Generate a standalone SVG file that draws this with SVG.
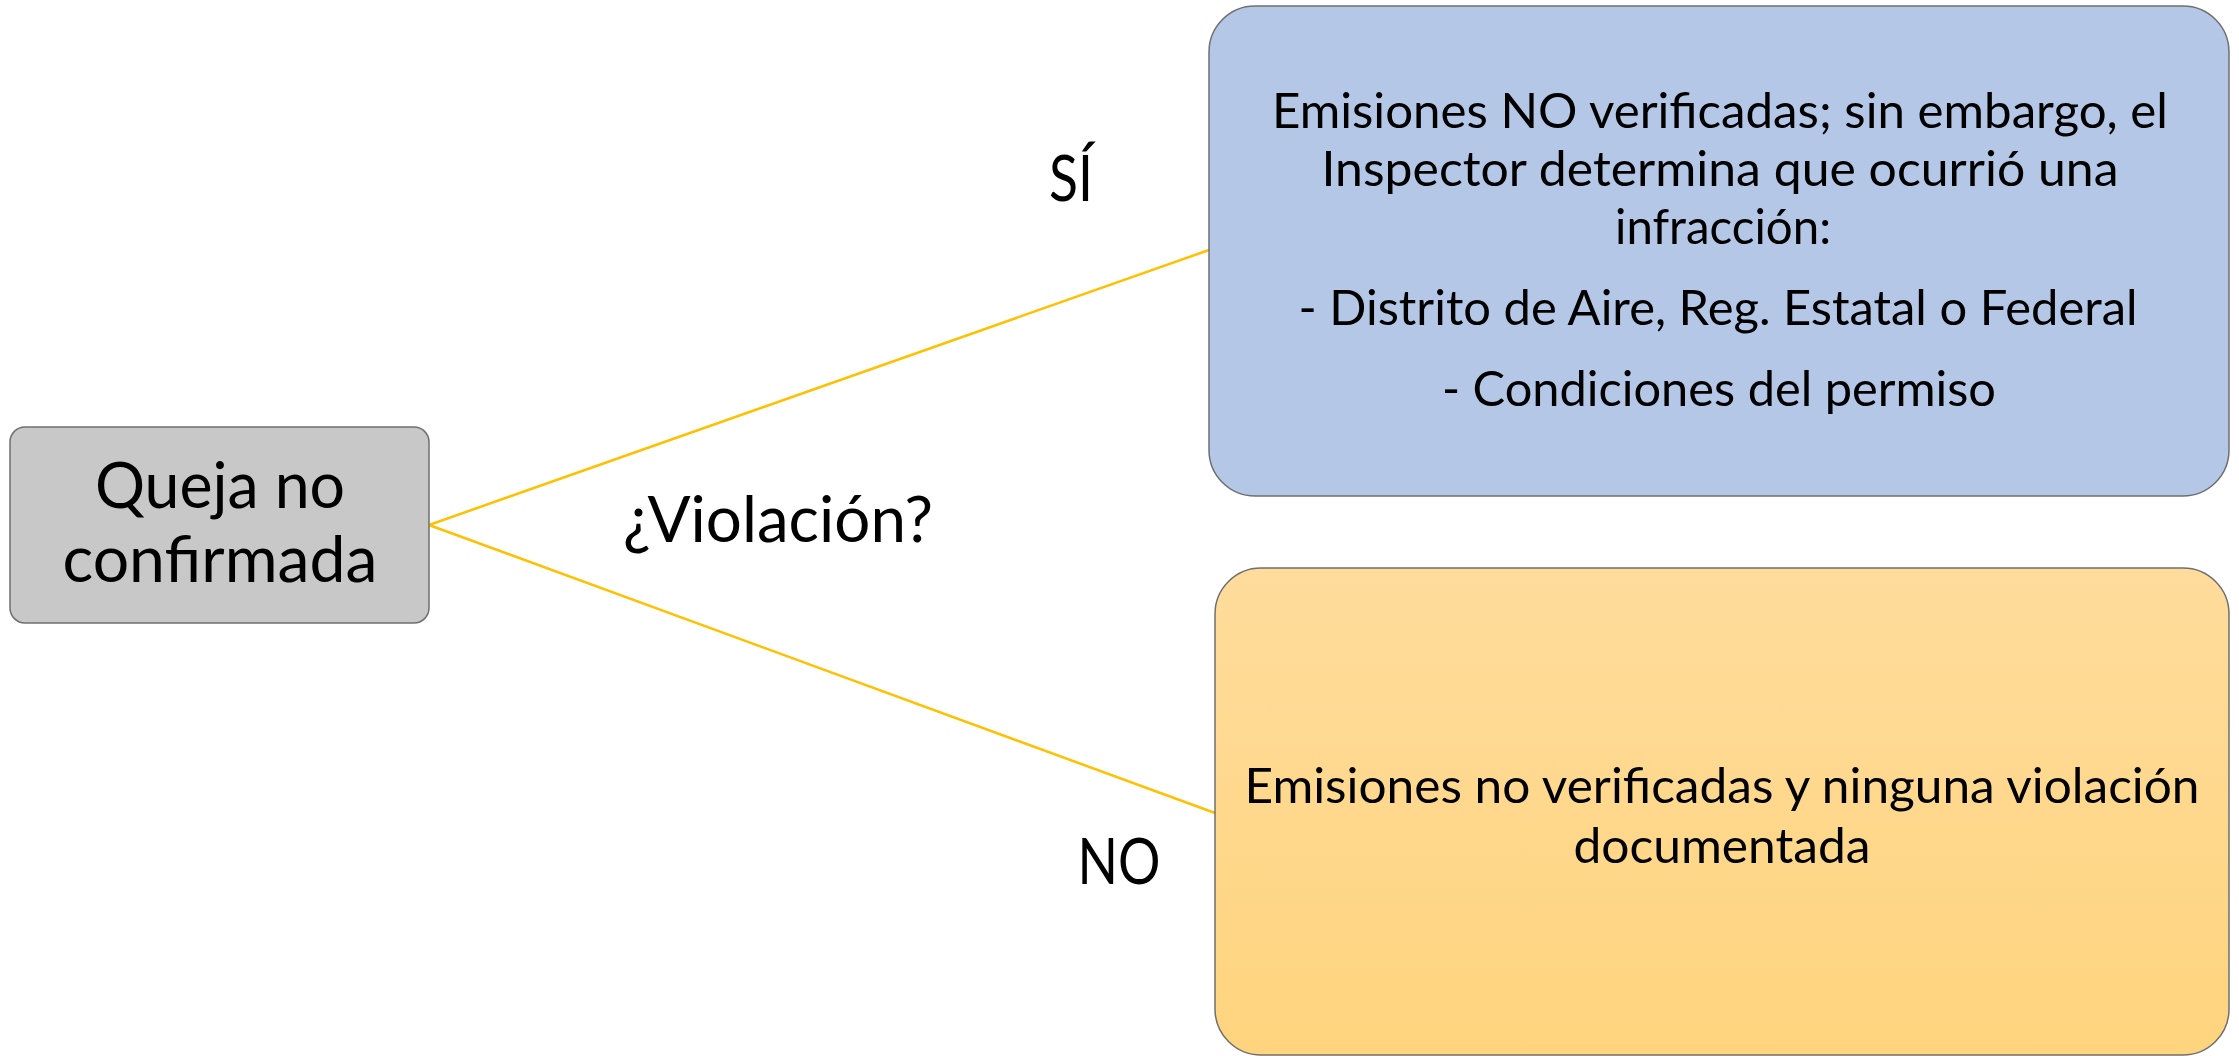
<svg xmlns="http://www.w3.org/2000/svg" width="2239" height="1056" viewBox="0 0 2239 1056">
<style>
  text { font-family: Lato, "Open Sans", "Liberation Sans", sans-serif; fill: #000; text-anchor: middle; }
  .big { font-size: 63px; }
  .mid { font-size: 49px; }
  .conn { stroke: #FFC000; stroke-width: 2.5; fill: none; }
  .box { stroke: #6F6F6F; stroke-width: 1.5; }
</style>
<defs>
  <linearGradient id="og" x1="0" y1="0" x2="0" y2="1">
    <stop offset="0" stop-color="#FFDC9C"/>
    <stop offset="1" stop-color="#FFD47E"/>
  </linearGradient>
</defs>
<rect width="2239" height="1056" fill="#FFFFFF"/>
<g id="connectors">
  <line class="conn" x1="429" y1="525" x2="1209" y2="250"/>
  <line class="conn" x1="429" y1="525" x2="1215" y2="813"/>
</g>
<g id="node-queja">
  <rect class="box" x="10" y="427" width="419" height="196" rx="15" fill="#C8C8C8"/>
  <text class="big" x="220" y="508" textLength="250" lengthAdjust="spacingAndGlyphs">Queja no</text>
  <text class="big" x="220" y="582" textLength="315" lengthAdjust="spacingAndGlyphs">confirmada</text>
</g>
<g id="node-si">
  <rect class="box" x="1209" y="6" width="1020" height="490" rx="46" fill="#B4C7E7"/>
  <text class="mid" x="1720" y="128" textLength="896" lengthAdjust="spacingAndGlyphs">Emisiones NO verificadas; sin embargo, el</text>
  <text class="mid" x="1720" y="186" textLength="797" lengthAdjust="spacingAndGlyphs">Inspector determina que ocurrió una</text>
  <text class="mid" x="1723" y="244" textLength="216" lengthAdjust="spacingAndGlyphs">infracción:</text>
  <text class="mid" x="1718" y="325" textLength="839" lengthAdjust="spacingAndGlyphs">- Distrito de Aire, Reg. Estatal o Federal</text>
  <text class="mid" x="1719" y="406" textLength="554" lengthAdjust="spacingAndGlyphs">- Condiciones del permiso</text>
</g>
<g id="node-no">
  <rect class="box" x="1215" y="568" width="1014" height="487" rx="46" fill="url(#og)"/>
  <text class="mid" x="1722" y="803" textLength="955" lengthAdjust="spacingAndGlyphs">Emisiones no verificadas y ninguna violación</text>
  <text class="mid" x="1722" y="863" textLength="297" lengthAdjust="spacingAndGlyphs">documentada</text>
</g>
<g id="labels">
  <text class="big" x="778" y="542" textLength="310" lengthAdjust="spacingAndGlyphs">¿Violación?</text>
  <text class="big" x="1071" y="201" textLength="44" lengthAdjust="spacingAndGlyphs">SÍ</text>
  <text class="big" x="1119" y="884" textLength="83" lengthAdjust="spacingAndGlyphs">NO</text>
</g>
</svg>
